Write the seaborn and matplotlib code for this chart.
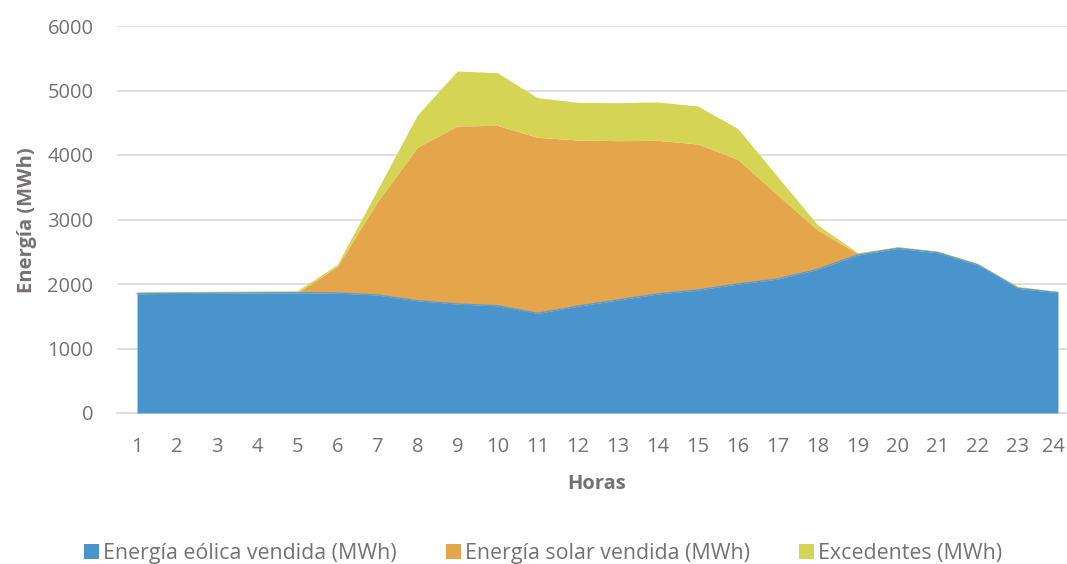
import numpy as np
import pandas as pd
import seaborn as sns
import matplotlib.pyplot as plt
import matplotlib.transforms as mtransforms
from matplotlib.patches import Patch

horas = list(range(1, 25))
eolica = [1850, 1855, 1858, 1862, 1865, 1860, 1830, 1741, 1690, 1664, 1545, 1655,
          1752, 1845, 1907, 2000, 2077, 2228, 2450, 2553, 2486, 2295, 1933, 1866]
solar = [0, 0, 0, 0, 0, 410, 1446, 2378, 2760, 2796, 2729, 2578,
         2470, 2382, 2264, 1934, 1303, 609, 20, 0, 0, 0, 0, 0]
excedentes = [30, 30, 30, 30, 30, 30, 181, 500, 852, 816, 615, 584,
              589, 595, 589, 479, 284, 78, 15, 27, 26, 25, 30, 20]
series_names = ["Energía eólica vendida (MWh)", "Energía solar vendida (MWh)", "Excedentes (MWh)"]
colors = ["#4a94cd", "#e5a54b", "#d5d455"]
yticks = [0, 1000, 2000, 3000, 4000, 5000, 6000]

df = pd.DataFrame({"Horas": horas, series_names[0]: eolica,
                   series_names[1]: solar, series_names[2]: excedentes})

sns.set_theme(style="white")
plt.rcParams['font.family'] = ['Open Sans', 'DejaVu Sans']

fig = plt.figure(figsize=(10.67, 5.64), dpi=100)
ax = fig.add_axes([117/1067, 1-413/564, 1-117/1067, (413-26)/564])

ax.stackplot(df["Horas"], df[series_names[0]], df[series_names[1]], df[series_names[2]],
             colors=colors, linewidth=0, zorder=3)
# thin outline on the wind area
sns.lineplot(x=df["Horas"], y=df[series_names[0]], ax=ax, color="#5b9bd5", lw=1.0, zorder=3.5)

ax.set_xlim(0.5, 0.5 + (1067-117)/40.04)
ax.set_ylim(0, 6000)
ax.set_yticks(yticks)
ax.set_yticklabels([str(v) for v in yticks])
ax.set_xticks(horas)
ax.set_xticklabels([str(h) for h in horas])
ax.grid(axis='y', color="#d9d9d9", lw=1.2, zorder=0)
ax.grid(axis='x', visible=False)
for s in ["top", "right", "left"]:
    ax.spines[s].set_visible(False)
ax.spines["bottom"].set_color("#d9d9d9")
ax.spines["bottom"].set_linewidth(1.2)
ax.tick_params(axis='both', length=0, colors="#767171", labelsize=14.5)
ax.tick_params(axis='y', pad=17)
ax.tick_params(axis='x', pad=17)

# keep the last hour label inside the canvas
last = ax.get_xticklabels()[-1]
last.set_transform(last.get_transform() + mtransforms.ScaledTranslation(-4/100, 0, fig.dpi_scale_trans))

ax.set_xlabel("Horas", fontsize=14.5, fontweight='bold', color="#767171")
ax.set_ylabel("Energía (MWh)", fontsize=14.5, fontweight='bold', color="#767171")
ax.xaxis.set_label_coords((597-117)/(1067-117), -(474-413)/(413-26))
ax.yaxis.set_label_coords(-(117-37)/(1067-117), (413-220)/(413-26))

handles = [Patch(facecolor=c, edgecolor='none') for c in colors]
fig.legend(handles, series_names, loc='center', bbox_to_anchor=(0.509, 1-553/564), ncol=3,
           frameon=False, fontsize=15.4, labelcolor="#767171", handlelength=0.7,
           handleheight=0.7, handletextpad=0.2, columnspacing=2.3)

fig.savefig("out.png", dpi=100)
